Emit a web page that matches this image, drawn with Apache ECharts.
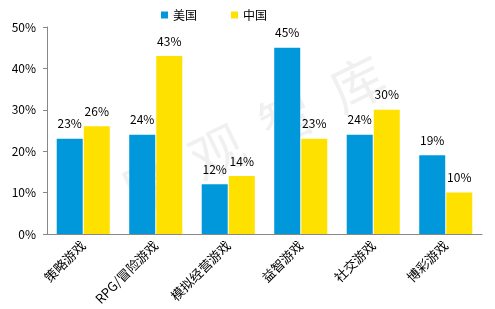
<!DOCTYPE html>
<html><head><meta charset="utf-8">
<script src="https://cdn.jsdelivr.net/npm/echarts@6/dist/echarts.min.js"></script>
<style>html,body{margin:0;padding:0;background:#fff}#c{width:495px;height:309px}</style>
</head><body><div id="c"></div>
<script>
const categories = ['策略游戏','RPG/冒险游戏','模拟经营游戏','益智游戏','社交游戏','博彩游戏'];
const usValues = [23,24,12,45,24,19];
const cnValues = [26,43,14,23,30,10];
const seriesNames = ['美国','中国'];
const watermark = ['易','观','智','库'];
const chart = echarts.init(document.getElementById('c'));
const font = '"Noto Sans CJK SC", "Liberation Sans", sans-serif';
const lbl = {show:true, position:'top', distance:9, formatter:'{c}%', color:'#000', fontSize:12, fontFamily:font};
chart.setOption({
  animation:false,
  textStyle:{fontFamily:font},
  graphic:[{type:'group', x:252, y:135, rotation:26*Math.PI/180, z:-10,
    children: watermark.map((ch,i)=>({type:'text', x:(i-1.5)*78, y:0,
      style:{text:ch, fontSize:54, fill:'rgba(0,0,0,0.06)', fontFamily:font, align:'center', verticalAlign:'middle'}}))}],
  legend:{top:4, left:156, itemWidth:7, itemHeight:7, itemGap:34, icon:'rect',
    textStyle:{fontSize:12, color:'#000', fontFamily:font}, data:seriesNames},
  grid:{left:47, right:13, top:27, bottom:75, containLabel:false},
  xAxis:{type:'category', data:categories,
    axisLine:{lineStyle:{color:'#888'}}, axisTick:{show:false},
    axisLabel:{rotate:45, interval:0, color:'#000', fontSize:13, margin:9, fontFamily:font}},
  yAxis:{type:'value', min:0, max:50, interval:10,
    axisLine:{show:true, lineStyle:{color:'#888'}},
    axisTick:{show:true, length:4, lineStyle:{color:'#888'}},
    splitLine:{show:false},
    axisLabel:{formatter:'{value}%', color:'#000', fontSize:12, margin:11, fontFamily:font}},
  series:[
    {name:seriesNames[0], type:'bar', data:usValues, barWidth:26, barGap:'4%', itemStyle:{color:'#0098DB'}, label:lbl, z:2},
    {name:seriesNames[1], type:'bar', data:cnValues, barWidth:26, itemStyle:{color:'#FFE100'}, label:lbl, z:2}
  ]
});
</script></body></html>
